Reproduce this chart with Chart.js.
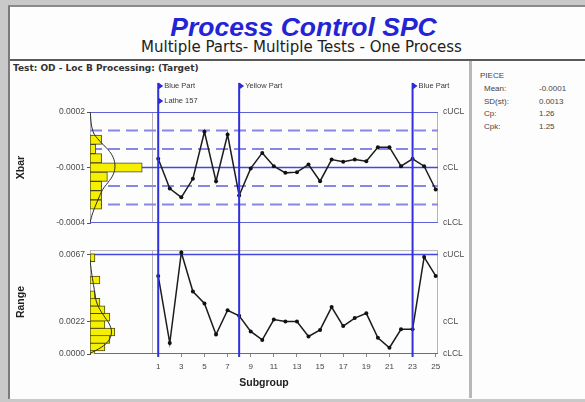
<!DOCTYPE html>
<html>
<head>
<meta charset="utf-8">
<script src="https://cdn.jsdelivr.net/npm/chart.js@4.4.1/dist/chart.umd.min.js"></script>
<style>
  html, body { margin: 0; padding: 0; }
  body { width: 585px; height: 402px; background: #c9c9c9; position: relative; overflow: hidden;
         font-family: "Liberation Sans", Arial, sans-serif; }
  .abs { position: absolute; white-space: nowrap; }
  #panel { left: 8px; top: 5px; width: 577px; height: 392px; background: #fdfdfd;
           border-left: 2px solid #7a7a7a; border-top: 2px solid #8a8a8a; }
  #title { left: 16px; width: 575px; top: 12px; text-align: center; font: italic bold 26.5px "Liberation Sans", Arial, sans-serif;
           color: #2424d6; line-height: 30px; }
  #subtitle { left: 14px; width: 575px; top: 39px; text-align: center; font: 15px "DejaVu Sans", Verdana, sans-serif;
              line-height: 17px; color: #222; }
  #hrule { left: 10px; top: 59px; width: 575px; height: 2px; background: #5a5a5a; }
  #vrule { left: 469px; top: 61px; width: 3px; height: 337px; background: #b8b8b8; }
  #testLabel { left: 13px; top: 63px; font: bold 9px "DejaVu Sans", Verdana, sans-serif; line-height: 11px; color: #333; }
  .stat { font-size: 8px; line-height: 9px; color: #444; }
  canvas { position: absolute; }
</style>
</head>
<body>
<div id="panel" class="abs"></div>
<div id="title" class="abs">Process Control SPC</div>
<div id="subtitle" class="abs">Multiple Parts- Multiple Tests - One Process</div>
<div id="hrule" class="abs"></div>
<div id="vrule" class="abs"></div>
<div id="testLabel" class="abs">Test: OD - Loc B Processing: (Target)</div>
<div id="stats"></div>
<canvas id="xbarChart" width="458" height="164" style="left:12px;top:76px;"></canvas>
<canvas id="rangeChart" width="458" height="156" style="left:12px;top:240px;"></canvas>
<script>
// subgroups and values
const subgroups = [1,2,3,4,5,6,7,8,9,10,11,12,13,14,15,16,17,18,19,20,21,22,23,24,25];
const subgroupTicks = [1,3,5,7,9,11,13,15,17,19,21,23,25];
const xbarValues = [-0.000053,-0.000214,-0.000261,-0.000161,0.000093,-0.000174,0.000078,-0.000251,-0.000105,-0.000021,
  -0.000093,-0.000129,-0.000125,-0.000084,-0.000174,-0.000057,-0.000069,-0.000057,-0.000066,0.000010,
  0.000010,-0.000093,-0.000053,-0.000093,-0.000219];
const rangeValues = [0.00526,0.00074,0.00684,0.00421,0.00341,0.00131,0.00295,0.00257,0.00152,0.00095,
  0.00232,0.00219,0.00219,0.00118,0.00162,0.00316,0.00188,0.00242,0.00274,0.00109,
  0.00042,0.00166,0.00166,0.00653,0.00526];

// control limits
const xbarTicks = [-0.0004, -0.0001, 0.0002];
const xbarLimitLabels = ["cLCL", "cCL", "cUCL"];
const xbarSolidLines = [0.0002, -0.0001, -0.0004];
const xbarDashedLines = [0.0001, 0, -0.0002, -0.0003];
const rangeTicks = [0, 0.0022, 0.0067];
const rangeLimitLabels = ["cLCL", "cCL", "cUCL"];
const rangeSolidLines = [0.0067, 0];

// histograms (bin centre, count) and fitted curve (value, count)
const xbarBinWidth = 0.00005;
const xbarBins = [0.000075,0.000025,-0.000025,-0.000075,-0.000125,-0.000175,-0.000225,-0.000275];
const xbarCounts = [2,1,2,9,3,2,2,2];
const xbarCurveValues = [0.000208,0.000096,0.000042,-0.000003,-0.000046,-0.000093,-0.000138,-0.000181,-0.000219,-0.000273,-0.000343,-0.000397];
const xbarCurveCounts = [0,0.5,1.7,3.1,4.0,4.3,4.0,3.1,2.2,1.4,0.5,0];
const rangeBinWidth = 0.0005;
const rangeBins = [0.00025,0.00075,0.00125,0.00175,0.00225,0.00275,0.00325,0.00375,0.00425,0.00475,0.00525,0.00575,0.00625,0.00675];
const rangeCounts = [1,3,4,5,3,4,3,2,1,0,2,0,0,1];
const rangeCurveValues = [0.00004,0.00046,0.00088,0.00141,0.00194,0.00247,0.00299,0.00352,0.00405,0.00468,0.00552,0.00637];
const rangeCurveCounts = [0,2.3,3.7,4.3,4.0,3.0,2.0,1.3,1.0,0.7,0.3,0];

// part changes
const eventSubgroups = [1, 8, 23];
const eventLabels = [["Blue Part", "Lathe 157"], ["Yellow Part"], ["Blue Part"]];

// stats box
const statNames = ["Mean:", "SD(st):", "Cp:", "Cpk:"];
const statValues = ["-0.0001", "0.0013", "1.26", "1.25"];

const subMin = -4.9, subMax = 25.2, plotStart = 0.5;
const PLOT_H = 111;
const FONT = '"Liberation Sans", Arial, sans-serif';
Chart.defaults.font.family = FONT;

// stats text
const statsEl = document.getElementById("stats");
function addText(txt, left, top) {
  const d = document.createElement("div");
  d.className = "abs stat"; d.textContent = txt;
  d.style.left = left + "px"; d.style.top = top + "px";
  statsEl.appendChild(d);
}
addText("PIECE", 480, 71);
statNames.forEach((n, i) => {
  addText(n, 484, 84 + i * 12.6);
  addText(statValues[i], 539, 84 + i * 12.6);
});

const spcDecor = {
  id: "spcDecor",
  beforeDatasetsDraw(chart) {
    const { ctx, chartArea: a, scales: { x } } = chart;
    ctx.save();
    ctx.strokeStyle = "#b4b4b4"; ctx.lineWidth = 1;
    ctx.strokeRect(a.left + 0.5, a.top + 0.5, a.width - 1, a.height - 1);
    const sx = Math.round(x.getPixelForValue(plotStart)) + 0.5;
    ctx.beginPath(); ctx.moveTo(sx, a.top); ctx.lineTo(sx, a.bottom); ctx.stroke();
    ctx.restore();
  },
  afterDatasetsDraw(chart, args, o) {
    const { ctx, scales: { x } } = chart;
    ctx.save();
    eventSubgroups.forEach((s, i) => {
      const px = x.getPixelForValue(s);
      ctx.strokeStyle = "#3030dc"; ctx.lineWidth = 2;
      ctx.beginPath(); ctx.moveTo(px, o.from); ctx.lineTo(px, o.to); ctx.stroke();
      if (!o.labels) return;
      eventLabels[i].forEach((t, j) => {
        const ty = 10 + j * 15;
        ctx.fillStyle = "#2b2bd8";
        ctx.beginPath(); ctx.moveTo(px, ty - 3.5); ctx.lineTo(px + 5, ty); ctx.lineTo(px, ty + 3.5); ctx.closePath(); ctx.fill();
        ctx.fillStyle = "#3a3a3a"; ctx.font = "7.5px " + FONT; ctx.textBaseline = "middle";
        ctx.fillText(t, px + 6, ty);
      });
    });
    ctx.restore();
  }
};

function limitLine(v, color, width, dash) {
  return { type: "line", data: [{ x: subMin, y: v }, { x: subMax, y: v }], xAxisID: "x", yAxisID: "y",
    borderColor: color, borderWidth: width, borderDash: dash, pointRadius: 0, order: 5 };
}

function buildChart(id, cfg) {
  const bars = cfg.bins.map((b, i) => ({ x: cfg.counts[i], y: b })).filter(p => p.x > 0);
  const thick = cfg.binWidth / (cfg.yMax - cfg.yMin) * PLOT_H;
  const datasets = [];
  cfg.solid.forEach(v => datasets.push(limitLine(v, "#4646e2", 1.5, [])));
  (cfg.dashed || []).forEach(v => datasets.push(limitLine(v, "#8888e4", 2, [12, 6])));
  datasets.push({ type: "bar", indexAxis: "y", xAxisID: "xh", yAxisID: "y", data: bars,
    backgroundColor: "#f6f000", borderColor: "#4a4a1a", borderWidth: 1, borderSkipped: false,
    barThickness: thick, order: 3 });
  datasets.push({ type: "line", xAxisID: "xh", yAxisID: "y",
    data: cfg.curveValues.map((v, i) => ({ x: cfg.curveCounts[i], y: v })),
    borderColor: "#2b2b2b", borderWidth: 1, pointRadius: 0, tension: 0.4, order: 2 });
  datasets.push({ type: "line", xAxisID: "x", yAxisID: "y",
    data: subgroups.map((s, i) => ({ x: s, y: cfg.values[i] })),
    borderColor: "#1c1c1c", borderWidth: 1.5, pointRadius: 2, pointBackgroundColor: "#111",
    pointBorderWidth: 0, order: 1 });

  return new Chart(document.getElementById(id), {
    type: "line",
    data: { datasets },
    plugins: [spcDecor],
    options: {
      responsive: false, animation: false, devicePixelRatio: 1,
      layout: { padding: cfg.padding },
      plugins: { legend: { display: false }, tooltip: { enabled: false }, spcDecor: cfg.decor },
      scales: {
        x: Object.assign({ type: "linear", axis: "x", min: subMin, max: subMax, offset: false }, cfg.xAxis),
        xh: { type: "linear", axis: "x", min: 0, max: cfg.countMax, display: false, offset: false },
        y: {
          type: "linear", position: "left", min: cfg.yMin, max: cfg.yMax, offset: false,
          afterBuildTicks: s => { s.ticks = cfg.ticks.map(v => ({ value: v })); },
          afterFit: s => { s.width = 78; },
          ticks: { callback: v => v.toFixed(4), font: { size: 8.5 }, color: "#4a4a4a", padding: 2 },
          grid: { drawOnChartArea: false, tickLength: 3, color: "#555", offset: false },
          border: { color: "#555" },
          title: { display: true, text: cfg.title, font: { size: 10.5, weight: "bold" }, color: "#222", padding: { top: 3, bottom: 0 } }
        },
        yr: {
          type: "linear", axis: "y", position: "right", min: cfg.yMin, max: cfg.yMax, offset: false,
          afterBuildTicks: s => { s.ticks = cfg.ticks.map(v => ({ value: v })); },
          afterFit: s => { s.width = 32; },
          ticks: { callback: (v, i) => cfg.limitLabels[i], font: { size: 8.5 }, color: "#4a4a4a", padding: 5 },
          grid: { display: false, drawTicks: false },
          border: { display: false }
        }
      }
    }
  });
}

buildChart("xbarChart", {
  values: xbarValues, bins: xbarBins, counts: xbarCounts, binWidth: xbarBinWidth, countMax: 60,
  curveValues: xbarCurveValues, curveCounts: xbarCurveCounts,
  solid: xbarSolidLines, dashed: xbarDashedLines,
  yMin: -0.0004, yMax: 0.0002, ticks: xbarTicks, limitLabels: xbarLimitLabels, title: "Xbar",
  padding: { top: 36, bottom: 17, left: 0, right: 0 },
  decor: { from: 7, to: 164, labels: true },
  xAxis: { display: false }
});

buildChart("rangeChart", {
  values: rangeValues, bins: rangeBins, counts: rangeCounts, binWidth: rangeBinWidth, countMax: 70,
  curveValues: rangeCurveValues, curveCounts: rangeCurveCounts,
  solid: rangeSolidLines,
  yMin: 0, yMax: 0.0070, ticks: rangeTicks, limitLabels: rangeLimitLabels, title: "Range",
  padding: { top: 3, bottom: 2, left: 0, right: 0 },
  decor: { from: 0, to: 117, labels: false },
  xAxis: {
    position: "bottom",
    afterBuildTicks: s => { s.ticks = subgroupTicks.map(v => ({ value: v })); },
    afterFit: s => { s.height = 40; },
    ticks: { font: { size: 8 }, color: "#444", padding: 5 },
    grid: { drawOnChartArea: false, tickLength: 3, color: "#888" },
    border: { display: false },
    title: { display: true, text: "Subgroup", font: { size: 10.5, weight: "bold" }, color: "#222", padding: { top: 0, bottom: 5 } }
  }
});
</script>
</body>
</html>
